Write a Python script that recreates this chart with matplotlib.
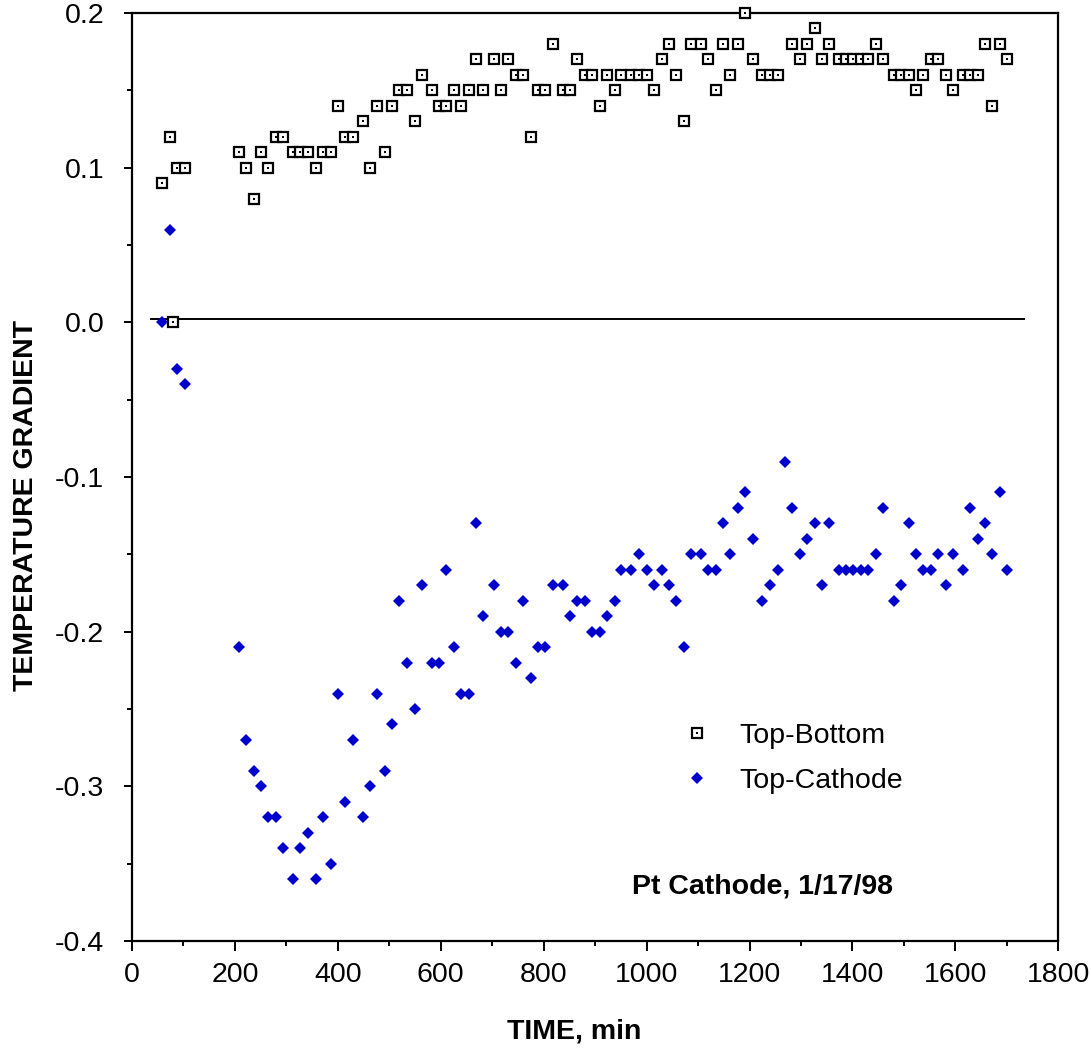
import matplotlib
matplotlib.use("Agg")
import matplotlib.pyplot as plt
import numpy as np
from matplotlib.legend_handler import HandlerTuple
from matplotlib.ticker import MultipleLocator, FormatStrFormatter

plt.rcParams["font.family"] = ["Liberation Sans", "DejaVu Sans"]

# time, min
time_min = [
    59, 73, 79, 88, 103,
    208, 222, 237, 251, 265, 280, 294, 313, 327, 342, 357, 371, 386, 400,
    414, 429, 448, 462, 476, 491, 505, 519, 534, 549, 563, 582, 597, 610,
    625, 640, 655, 669, 683, 703, 717, 731, 746, 760, 775, 788, 803, 818,
    837, 851, 865, 880, 894, 909, 923, 938, 951, 969, 985, 1000, 1014, 1029,
    1043, 1057, 1072, 1086, 1106, 1120, 1135, 1149, 1163, 1178, 1192, 1207,
    1225, 1240, 1255, 1269, 1283, 1298, 1312, 1327, 1341, 1355, 1373, 1388,
    1402, 1417, 1431, 1446, 1460, 1480, 1494, 1509, 1523, 1538, 1552, 1566,
    1581, 1595, 1615, 1629, 1644, 1658, 1672, 1687, 1701,
]

top_bottom = [
    0.09, 0.12, 0.00, 0.10, 0.10,
    0.11, 0.10, 0.08, 0.11, 0.10, 0.12, 0.12, 0.11, 0.11, 0.11, 0.10, 0.11,
    0.11, 0.14, 0.12, 0.12, 0.13, 0.10, 0.14, 0.11, 0.14, 0.15, 0.15, 0.13,
    0.16, 0.15, 0.14, 0.14,
    0.15, 0.14, 0.15, 0.17, 0.15, 0.17, 0.15, 0.17, 0.16, 0.16, 0.12, 0.15,
    0.15, 0.18, 0.15, 0.15, 0.17, 0.16, 0.16, 0.14, 0.16, 0.15, 0.16, 0.16,
    0.16, 0.16, 0.15, 0.17, 0.18, 0.16, 0.13, 0.18, 0.18, 0.17, 0.15, 0.18,
    0.16, 0.18, 0.20, 0.17,
    0.16, 0.16, 0.16, np.nan, 0.18, 0.17, 0.18, 0.19, 0.17, 0.18, 0.17, 0.17,
    0.17, 0.17, 0.17, 0.18, 0.17, 0.16, 0.16, 0.16, 0.15, 0.16, 0.17, 0.17,
    0.16, 0.15, 0.16, 0.16, 0.16, 0.18, 0.14, 0.18, 0.17,
]

top_cathode = [
    0.00, 0.06, 0.00, -0.03, -0.04,
    -0.21, -0.27, -0.29, -0.30, -0.32, -0.32, -0.34, -0.36, -0.34, -0.33,
    -0.36, -0.32, -0.35, -0.24, -0.31, -0.27, -0.32, -0.30, -0.24, -0.29,
    -0.26, -0.18, -0.22, -0.25, -0.17, -0.22, -0.22, -0.16,
    -0.21, -0.24, -0.24, -0.13, -0.19, -0.17, -0.20, -0.20, -0.22, -0.18,
    -0.23, -0.21, -0.21, -0.17, -0.17, -0.19, -0.18, -0.18, -0.20, -0.20,
    -0.19, -0.18, -0.16, -0.16, -0.15, -0.16, -0.17, -0.16, -0.17, -0.18,
    -0.21, -0.15, -0.15, -0.16, -0.16, -0.13, -0.15, -0.12, -0.11, -0.14,
    -0.18, -0.17, -0.16, -0.09, -0.12, -0.15, -0.14, -0.13, -0.17, -0.13,
    -0.16, -0.16, -0.16, -0.16, -0.16, -0.15, -0.12, -0.18, -0.17, -0.13,
    -0.15, -0.16, -0.16, -0.15, -0.17, -0.15, -0.16, -0.12, -0.14, -0.13,
    -0.15, -0.11, -0.16,
]

zero_line_x = [36, 1734]
zero_line_y = [0.002, 0.002]

fs = 20.5
blue = "#0000CC"

fig = plt.figure(figsize=(10.91, 10.50), dpi=100)
ax = fig.add_axes([0.121, 0.1038, 0.849, 0.8838])

ax.plot(zero_line_x, zero_line_y, color="black", lw=1.4, zorder=1)

tc, = ax.plot(time_min, top_cathode, "D", color=blue, ms=6.4, mew=0,
              zorder=2, clip_on=False)
tb, = ax.plot(time_min, top_bottom, "s", mfc="white", mec="black", ms=6.8,
              mew=1.6, zorder=3, clip_on=False)
tb_dot, = ax.plot(time_min, top_bottom, "s", color="black", ms=1.6, mew=0,
                  zorder=4, clip_on=False)

ax.set_xlim(0, 1800)
ax.set_ylim(-0.4, 0.2)
ax.xaxis.set_major_locator(MultipleLocator(200))
ax.xaxis.set_minor_locator(MultipleLocator(100))
ax.yaxis.set_major_locator(MultipleLocator(0.1))
ax.yaxis.set_minor_locator(MultipleLocator(0.05))
ax.yaxis.set_major_formatter(FormatStrFormatter("%.1f"))

for spine in ax.spines.values():
    spine.set_linewidth(1.6)
ax.tick_params(which="both", direction="out", top=False, right=False,
               width=1.4, labelsize=fs)
ax.tick_params(axis="x", which="major", length=7, pad=8)
ax.tick_params(axis="x", which="minor", length=3.5)
ax.tick_params(axis="y", which="major", length=6, pad=14)
ax.tick_params(axis="y", which="minor", length=3.5)

ax.set_xlabel("TIME, min", fontsize=fs, fontweight="bold")
ax.set_ylabel("TEMPERATURE GRADIENT", fontsize=fs, fontweight="bold")
ax.xaxis.set_label_coords(0.477, -0.083)
ax.yaxis.set_label_coords(-0.100, 0.469)

ax.legend([(tb, tb_dot), tc], ["Top-Bottom", "Top-Cathode"],
          handler_map={tuple: HandlerTuple(ndivide=1, pad=0)},
          loc="center left", bbox_to_anchor=(0.5945, 0.197), frameon=False,
          fontsize=fs, handlelength=1.0, handletextpad=1.0, labelspacing=0.68,
          borderpad=0, borderaxespad=0)

ax.text(0.5397, 0.0517, "Pt Cathode, 1/17/98", transform=ax.transAxes,
        fontsize=fs, fontweight="bold", ha="left", va="baseline")

fig.savefig("out.png", dpi=100)
